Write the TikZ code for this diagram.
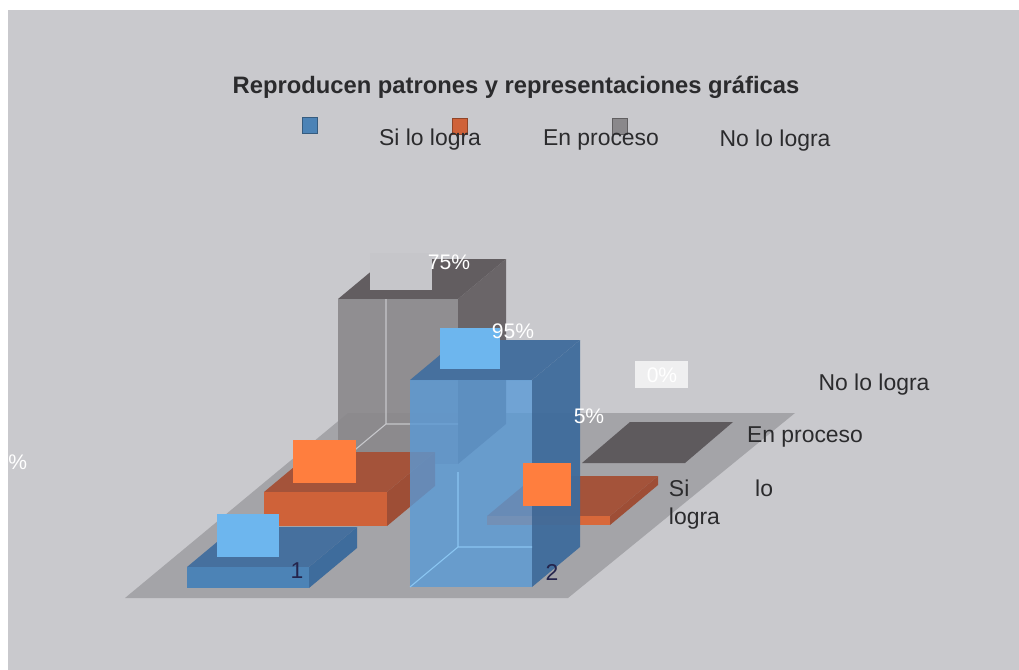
\documentclass[tikz,border=0pt]{standalone}
\usepackage{fontspec}
\setmainfont{Liberation Sans}
\usepackage{tikz}
\usetikzlibrary{positioning}

\definecolor{paper}{HTML}{C9C9CD}
\definecolor{floorgray}{HTML}{A4A4A8}
\definecolor{txt}{HTML}{2B2B2D}
\definecolor{blueF}{HTML}{5A9AD6}
\definecolor{blueS}{HTML}{3E6C9C}
\definecolor{blueT}{HTML}{46709E}
\definecolor{blueLbl}{HTML}{6DB6EE}
\definecolor{orF}{HTML}{CF6239}
\definecolor{orS}{HTML}{9E4E36}
\definecolor{orT}{HTML}{A4533A}
\definecolor{orLbl}{HTML}{FF7E3E}
\definecolor{grF}{HTML}{8A888B}
\definecolor{grS}{HTML}{6A6568}
\definecolor{grT}{HTML}{625D60}
\definecolor{grLbl}{HTML}{C6C6CA}
\definecolor{grFlat}{HTML}{5E5A5D}

% one bar of the chart: left x, bottom y, width, height, front, side, top
\newcommand{\chartbar}[7]{
  \fill[#6] (#1+#3,#2) -- ++(48,-40) -- ++(0,-#4) -- ++(-48,40) -- cycle;
  \fill[#7] (#1,#2-#4) -- ++(#3,0) -- ++(48,-40) -- ++(-#3,0) -- cycle;
  \fill[#5] (#1,#2) rectangle ++(#3,-#4);
}

\tikzset{
  lbl/.style={font=\fontsize{16.3}{20}\selectfont, text=txt, inner sep=0pt},
  val/.style={font=\fontsize{15}{18}\selectfont, text=white, inner sep=0pt},
  key/.style={draw=#1!70!black, fill=#1, minimum width=11pt, minimum height=11.5pt, inner sep=0pt}
}

\begin{document}
\begin{tikzpicture}[x=0.025cm, y=-0.025cm]
  \useasboundingbox (0,0) rectangle (1019,670);
  \fill[white] (0,0) rectangle (1019,670);
  \fill[paper] (8,10) rectangle (1019,670);

  % title and legend
  \node at (516,87) [lbl, font=\bfseries\fontsize{16.9}{20}\selectfont] (title) {
    Reproducen patrones y representaciones gráficas
  };
  \node at (310,125) [key=blueF!85!black] (keyA) {};
  \node at (460,126) [key=orF] (keyB) {};
  \node at (620,126) [key=grF] (keyC) {};
  \node at (430,140) [lbl] (legA) {Si lo logra};
  \node at (601,140) [lbl] (legB) {En proceso};
  \node at (775,141) [lbl] (legC) {No lo logra};

  % floor
  \fill[floorgray] (125,598) -- (568,598) -- (795,413) -- (348,413) -- cycle;

  % back row: No lo logra
  \chartbar{338}{464}{120}{165}{grF, fill opacity=.9}{grS}{grT}
  \draw[grLbl, line width=0.8pt] (386,299) -- (386,424) -- (458,424) (386,424) -- (338,464);
  \fill[grFlat] (582,463) -- (685,463) -- (733,422) -- (630,422) -- cycle;

  % middle row: En proceso
  \chartbar{264}{526}{123}{34}{orF}{orS}{orT}
  \chartbar{487}{525}{123}{9}{orF!80!orLbl}{orS}{orT}

  % front row: Si lo logra
  \chartbar{187}{588}{122}{21}{blueF!85!black}{blueS}{blueT}
  \chartbar{410}{587}{122}{207}{blueF, fill opacity=.8}{blueS, fill opacity=.95}{blueT}
  \draw[blueLbl!80!white, line width=0.8pt] (458,472) -- (458,547) -- (532,547) (458,547) -- (410,587);

  % data labels
  \fill[grLbl] (370,253) rectangle (432,290);
  \node at (449,262) [val] (v75) {75\%};
  \fill[blueLbl] (440,328) rectangle (500,369);
  \node at (513,331) [val] (v95) {95\%};
  \fill[orLbl] (293,440) rectangle (356,483);
  \fill[blueLbl] (217,514) rectangle (279,557);
  \fill[orLbl] (523,463) rectangle (571,506);
  \node at (589,416) [val] (v5) {5\%};
  \fill[white!70!paper] (635,361) rectangle (688,388);
  \node at (662,375) [val] (v0) {0\%};
  \node at (12,462) [val] (vcut) {0\%};

  % axis labels
  \node at (297,571) [lbl, text=txt!85!blue] (catA) {1};
  \node at (552,572) [lbl, text=txt!85!blue] (catB) {2};
  \node at (874,385) [lbl] (serC) {No lo logra};
  \node at (805,437) [lbl] (serB) {En proceso};
  \node at (721,505) [lbl, text width=2.6cm, align=left] (serA) {Si\hfill lo\\logra};
\end{tikzpicture}
\end{document}
